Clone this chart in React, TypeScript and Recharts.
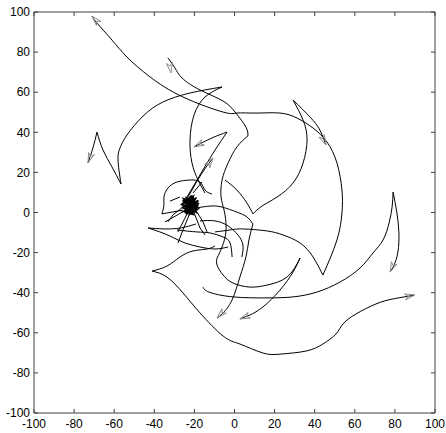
import { LineChart, Line, XAxis, YAxis, ReferenceLine } from 'recharts';

type Pt = [number, number];

const xTicks = [-100, -80, -60, -40, -20, 0, 20, 40, 60, 80, 100];
const yTicks = [-100, -80, -60, -40, -20, 0, 20, 40, 60, 80, 100];

// smooth trajectory pieces (split at the cusps)
const pathA1: Pt[] = [[-71.1, 98.0], [-68.6, 94.5], [-61.1, 86.0], [-53.6, 77.5], [-42.1, 67.6], [-25.7, 57.6], [-5.7, 50.1], [1.2, 49.6], [11.2, 49.6], [22.7, 49.6], [31.2, 47.1], [39.2, 42.1], [46.1, 35.2], [51.1, 24.7], [53.6, 11.2], [53.6, -0.2], [51.1, -13.7], [44.1, -31.2]];
const pathA2: Pt[] = [[44.1, -31.2], [39.2, -22.2], [32.7, -15.2], [24.2, -11.2], [16.2, -9.2], [4.2, -8.2], [-2.2, -8.7], [-9.7, -9.7]];
const pathB1: Pt[] = [[-68.6, 40.1], [-70.6, 32.2], [-73.1, 24.7]];
const pathB2: Pt[] = [[-68.6, 40.1], [-65.6, 31.2], [-61.1, 22.7], [-56.6, 14.2]];
const pathB3: Pt[] = [[-56.6, 14.2], [-58.1, 26.2], [-57.1, 32.2], [-53.6, 38.7], [-45.6, 48.1], [-35.7, 55.1], [-22.2, 59.6], [-6.2, 62.6]];
const pathB4: Pt[] = [[-6.2, 62.6], [-14.7, 57.6], [-20.2, 48.6], [-22.2, 36.2], [-21.2, 24.7], [-18.2, 16.2], [-14.7, 9.7]];
const pathC1: Pt[] = [[-33.2, 77.1], [-29.7, 72.1], [-26.2, 67.1], [-17.2, 61.1], [-5.7, 55.6], [0.7, 49.6], [5.7, 42.6], [6.7, 38.2]];
const pathC2: Pt[] = [[6.7, 38.2], [1.2, 32.7], [-3.2, 24.7], [-6.2, 16.2], [-6.7, 7.7], [-5.2, 1.2], [-4.2, -8.7], [-6.2, -17.2], [-8.7, -22.7]];
const pathD1: Pt[] = [[-4.7, 16.2], [1.2, 11.2], [6.2, 4.7], [9.2, -0.7]];
const pathD2: Pt[] = [[9.2, -0.7], [13.7, 3.2], [21.2, 7.7], [29.2, 14.7], [34.2, 24.7], [36.2, 36.2], [34.2, 46.1], [29.2, 56.1]];
const pathD3: Pt[] = [[29.2, 56.1], [37.7, 47.6], [42.6, 41.1], [45.6, 33.7]];
const pathE1: Pt[] = [[-41.1, -29.2], [-33.7, -32.2], [-25.7, -40.1], [-17.2, -50.1], [-5.7, -61.6], [2.7, -65.6], [14.2, -70.1], [23.2, -70.6], [35.7, -69.1], [44.1, -65.6], [50.6, -60.6], [54.1, -55.6], [60.6, -50.6], [70.6, -45.6], [79.1, -43.1], [89.5, -41.3]];
const pathE2: Pt[] = [[-41.1, -29.2], [-33.7, -26.7], [-27.2, -22.2], [-20.7, -19.2], [-13.7, -18.2], [-9.7, -16.7]];
const pathF1: Pt[] = [[-15.7, -37.2], [-12.7, -39.7], [-0.7, -42.1], [16.2, -42.6], [29.2, -42.1], [41.1, -39.7], [52.6, -34.7], [62.6, -27.7], [69.1, -20.2], [74.1, -13.7], [77.1, -5.2], [78.6, 2.7], [79.1, 10.2]];
const pathF2: Pt[] = [[79.1, 10.2], [81.0, -0.2], [82.0, -10.2], [81.5, -19.7], [79.6, -26.2], [77.6, -29.7]];
const pathG1: Pt[] = [[32.7, -22.7], [29.2, -29.7], [22.7, -38.7], [14.2, -47.1], [7.7, -51.1], [2.7, -53.1]];
const pathG2: Pt[] = [[32.7, -22.7], [26.2, -32.2], [16.2, -36.2], [7.7, -37.2], [-0.7, -35.2], [-5.7, -31.2], [-8.7, -26.2], [-8.7, -22.7]];
const pathH: Pt[] = [[9.2, -5.7], [7.2, -13.7], [5.7, -22.2], [2.7, -32.2], [-1.2, -43.6], [-5.7, -50.1], [-8.7, -52.6]];
const pathI: Pt[] = [[-19.7, 2.2], [-12.2, 3.2], [-6.2, 2.7], [1.2, 0.2], [6.2, -2.2], [9.2, -5.7]];
const pathJ1: Pt[] = [[-23.7, 7.7], [-18.7, 16.2], [-13.7, 24.7], [-8.7, 32.7], [-3.7, 40.1]];
const pathJ2: Pt[] = [[-3.7, 40.1], [-11.2, 37.2], [-20.2, 32.7]];
const pathK: Pt[] = [[-25.7, 3.7], [-21.2, 11.2], [-16.2, 19.7], [-10.7, 27.2]];
const pathL1: Pt[] = [[-25.7, 1.2], [-31.2, 0.2], [-36.2, -0.7]];
const pathL2: Pt[] = [[-36.2, -0.7], [-35.2, 3.7], [-35.2, 7.7], [-33.2, 12.2], [-28.7, 15.2], [-22.2, 16.2], [-17.2, 15.2], [-14.7, 11.2], [-11.2, 9.2]];
const pathM1: Pt[] = [[-43.1, -7.7], [-37.2, -9.7], [-31.2, -12.2], [-24.7, -15.2], [-17.2, -17.2], [-9.7, -18.2], [-3.2, -17.2]];
const pathM2: Pt[] = [[-43.1, -7.7], [-35.2, -8.2], [-26.7, -7.7], [-19.2, -5.7]];
const pathS: Pt[] = [[-28.7, -8.7], [-18.7, -9.7], [-12.2, -10.2], [-5.7, -12.2], [-2.2, -15.2], [-1.2, -22.2]];
const pathW: Pt[] = [[-17.2, -4.2], [-9.7, -4.2], [-3.2, -6.7], [1.7, -11.2], [4.2, -16.2], [3.7, -22.2]];

// short straight strokes around the knot
const spike1: Pt[] = [[-25.7, 2.7], [-30.7, -1.2], [-33.2, -4.7]];
const spike2: Pt[] = [[-22.2, -0.2], [-25.7, -8.7], [-28.2, -15.2]];
const spike3: Pt[] = [[-18.7, 0.2], [-15.7, -4.7], [-13.7, -9.7]];
const spike4: Pt[] = [[-20.7, 9.7], [-16.2, 15.2]];
const spike5: Pt[] = [[-27.2, 7.7], [-32.2, 5.7]];
const spike6: Pt[] = [[-24.2, 1.2], [-34.7, -4.7]];
const spike7: Pt[] = [[-20.7, 1.2], [-17.2, -7.7], [-14.7, -11.2]];
const spike8: Pt[] = [[-23.2, 0.2], [-28.2, -9.7]];
const knot: Pt[] = [[-23, 3], [-19.5, 7], [-25, 5], [-18.5, 1.5], [-22.5, -1], [-20.5, 8], [-26, 2.5], [-21.5, 0], [-18, 4.5], [-24, 7.5], [-20.5, -1], [-25.5, 0.5], [-19.5, 3], [-23, 6.5], [-17.5, 2], [-26, 6], [-21.5, 4], [-24.5, -0.5], [-19, 7.5], [-22.5, 2], [-20.5, 5], [-25, 3], [-19, 0], [-22, 8], [-24.5, 4.5], [-18, 3.5], [-23, 5.5], [-21, 1], [-25.5, 7], [-20, 5.5], [-22, 2.5], [-24, -1], [-18, 6], [-23.5, 3.5], [-21, 8.5], [-26.5, 4], [-20, 1.5], [-22.5, 7], [-19, 4], [-24, 1.5], [-21.5, 6], [-23.5, 0.5], [-20, 3.5], [-25, 2], [-21, 5], [-23, 1]];

// arrow heads: tip and a point behind it along the stream
const arrowTips: Pt[] = [[-71.1, 98.0], [-31.7, 69.6], [-73.1, 24.7], [-20.2, 32.7], [-10.7, 27.2], [45.6, 33.7], [77.6, -29.7], [90.0, -41.1], [-8.7, -52.6], [2.7, -53.1]];
const arrowTails: Pt[] = [[-66.1, 92.5], [-32.7, 76.1], [-70.6, 31.2], [-11.2, 37.2], [-15.7, 20.2], [41.6, 42.1], [81.0, -22.2], [82.5, -42.6], [-2.2, -46.1], [10.2, -50.1]];

const smooth = [pathA1, pathA2, pathB1, pathB2, pathB3, pathB4, pathC1, pathC2, pathD1, pathD2, pathD3, pathE1, pathE2, pathF1, pathF2, pathG1, pathG2, pathH, pathI, pathJ1, pathJ2, pathK, pathL1, pathL2, pathM1, pathM2, pathS, pathW];
const straight = [spike1, spike2, spike3, spike4, spike5, spike6, spike7, spike8];

const rows = (pts: Pt[]) => pts.map(([x, y]) => ({ x, y }));

const arrowHead = (tip: Pt, tail: Pt) => {
  const dx = tip[0] - tail[0];
  const dy = tip[1] - tail[1];
  const len = Math.hypot(dx, dy);
  const ux = dx / len;
  const uy = dy / len;
  const L = 5;
  const W = 1.5;
  const bx = tip[0] - ux * L;
  const by = tip[1] - uy * L;
  return [
    { x: bx - uy * W, y: by + ux * W },
    { x: tip[0], y: tip[1] },
    { x: bx + uy * W, y: by - ux * W },
    { x: tip[0] - ux * L * 0.7, y: tip[1] - uy * L * 0.7 },
    { x: bx - uy * W, y: by + ux * W },
  ];
};

const axisColor = '#404040';
const font = { fontFamily: '"Liberation Sans", Arial, sans-serif', fontSize: 12, fill: '#000' };

export default function App() {
  return (
    <div style={{ position: 'absolute', left: 0, top: 0, background: '#fff' }}>
      <LineChart width={446} height={433} margin={{ top: 12, right: 11, bottom: 0, left: 0 }}>
        <XAxis
          dataKey="x"
          type="number"
          domain={[-100, 100]}
          ticks={xTicks}
          allowDataOverflow
          height={20}
          tickSize={0}
          tickMargin={6}
          tickLine={false}
          axisLine={{ stroke: axisColor }}
          tick={font}
          interval={0}
        />
        <YAxis
          type="number"
          domain={[-100, 100]}
          ticks={yTicks}
          allowDataOverflow
          width={34}
          tickSize={0}
          tickMargin={4}
          tickLine={false}
          axisLine={{ stroke: axisColor }}
          tick={font}
          interval={0}
        />
        <ReferenceLine y={100} stroke={axisColor} />
        <ReferenceLine x={100} stroke={axisColor} />
        {xTicks.map((t) => (
          <ReferenceLine key={'xb' + t} segment={[{ x: t, y: -100 }, { x: t, y: -98 }]} stroke={axisColor} />
        ))}
        {xTicks.map((t) => (
          <ReferenceLine key={'xt' + t} segment={[{ x: t, y: 100 }, { x: t, y: 98 }]} stroke={axisColor} />
        ))}
        {yTicks.map((t) => (
          <ReferenceLine key={'yl' + t} segment={[{ x: -100, y: t }, { x: -98, y: t }]} stroke={axisColor} />
        ))}
        {yTicks.map((t) => (
          <ReferenceLine key={'yr' + t} segment={[{ x: 100, y: t }, { x: 98, y: t }]} stroke={axisColor} />
        ))}
        {smooth.map((p, i) => (
          <Line key={'s' + i} data={rows(p)} dataKey="y" type="natural" stroke="#000" strokeWidth={1} dot={false} isAnimationActive={false} />
        ))}
        {straight.map((p, i) => (
          <Line key={'l' + i} data={rows(p)} dataKey="y" type="linear" stroke="#000" strokeWidth={1} dot={false} isAnimationActive={false} />
        ))}
        <Line data={rows(knot)} dataKey="y" type="linear" stroke="#000" strokeWidth={1.5} dot={false} isAnimationActive={false} />
        {arrowTips.map((tip, i) => (
          <Line key={'a' + i} data={arrowHead(tip, arrowTails[i])} dataKey="y" type="linear" stroke="#8a8a8a" strokeWidth={1} dot={false} isAnimationActive={false} />
        ))}
      </LineChart>
    </div>
  );
}
